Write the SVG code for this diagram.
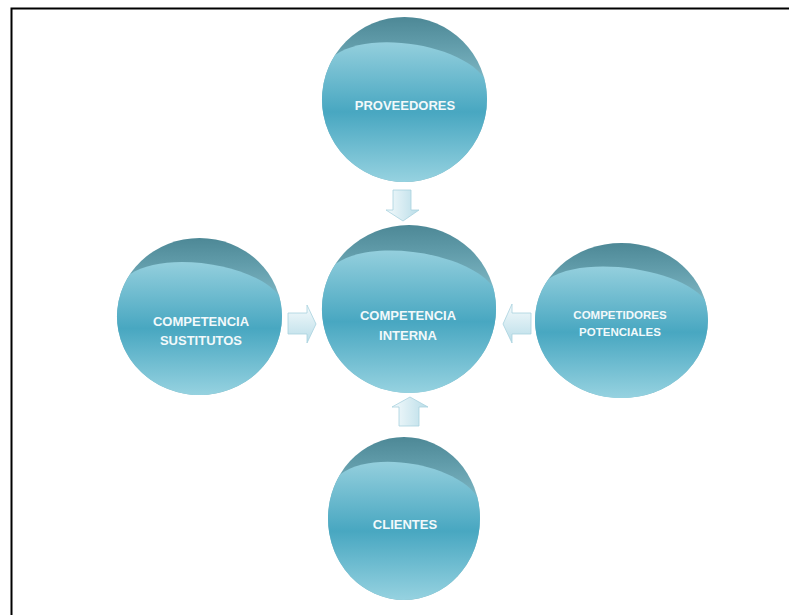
<svg xmlns="http://www.w3.org/2000/svg" width="789" height="615" viewBox="0 0 789 615">
<defs>
<linearGradient id="face" x1="0" y1="0" x2="0" y2="1">
<stop offset="0" stop-color="#94cfdd"/>
<stop offset="0.5" stop-color="#48a7c1"/>
<stop offset="1" stop-color="#96d2e0"/>
</linearGradient>
<linearGradient id="cap" x1="0" y1="0" x2="0" y2="1">
<stop offset="0" stop-color="#4d8896"/>
<stop offset="0.15" stop-color="#5f9aa8"/>
<stop offset="0.4" stop-color="#80b9c6"/>
</linearGradient>
<linearGradient id="arrV" x1="0" y1="0" x2="1" y2="0">
<stop offset="0" stop-color="#f4fafc"/>
<stop offset="1" stop-color="#b9dde8"/>
</linearGradient>
<linearGradient id="arrH" x1="0" y1="0" x2="0" y2="1">
<stop offset="0" stop-color="#f4fafc"/>
<stop offset="1" stop-color="#b9dde8"/>
</linearGradient>
</defs>
<style>
.face{fill:url(#face);}
.cap{fill:url(#cap);}
.lbl{font-family:"Liberation Sans",Arial,sans-serif;font-weight:bold;font-size:13px;fill:#f2f9fb;text-anchor:middle;}
.sm{font-size:11.5px;}
.av{fill:url(#arrV);stroke:#a8d2de;stroke-width:0.8;}
.ah{fill:url(#arrH);stroke:#a8d2de;stroke-width:0.8;}
</style>
<rect x="0" y="0" width="789" height="615" fill="#ffffff"/>
<rect x="11.5" y="8.5" width="800" height="620" fill="none" stroke="#000000" stroke-width="2"/>

<g id="connectors">
<path class="av" d="M393,190 H411 V210 H419 L403,221 L386,210 H393 Z"/>
<path class="ah" d="M288,313 H307 V305 L316,324 L307,343 V334 H288 Z"/>
<path class="ah" d="M531,313 H512 V304 L503,324 L512,343 V334 H531 Z"/>
<path class="av" d="M399,426 V407 H392 L410,397 L428,407 H419 V426 Z"/>
</g>

<g id="node-proveedores">
<g transform="translate(404.5,99.5)">
<circle class="cap" cx="0" cy="0" r="82.5"/>
<path class="face" d="M-69.5,-44.5 A82.5,82.5 0 1 0 79.5,-22 C56,-55 -34,-70 -69.5,-44.5 Z"/>
</g>
<text class="lbl" x="405" y="110">PROVEEDORES</text>
</g>

<g id="node-competencia-interna">
<g transform="translate(409,309) scale(1.055,1.018)">
<circle class="cap" cx="0" cy="0" r="82.5"/>
<path class="face" d="M-69.5,-44.5 A82.5,82.5 0 1 0 79.5,-22 C56,-55 -34,-70 -69.5,-44.5 Z"/>
</g>
<text class="lbl" x="408" y="320">COMPETENCIA</text>
<text class="lbl" x="408" y="340">INTERNA</text>
</g>

<g id="node-competencia-sustitutos">
<g transform="translate(199.5,316.5) scale(1,0.952)">
<circle class="cap" cx="0" cy="0" r="82.5"/>
<path class="face" d="M-69.5,-44.5 A82.5,82.5 0 1 0 79.5,-22 C56,-55 -34,-70 -69.5,-44.5 Z"/>
</g>
<text class="lbl" x="201" y="326">COMPETENCIA</text>
<text class="lbl" x="201" y="345">SUSTITUTOS</text>
</g>

<g id="node-competidores-potenciales">
<g transform="translate(621.5,320.5) scale(1.048,0.94)">
<circle class="cap" cx="0" cy="0" r="82.5"/>
<path class="face" d="M-69.5,-44.5 A82.5,82.5 0 1 0 79.5,-22 C56,-55 -34,-70 -69.5,-44.5 Z"/>
</g>
<text class="lbl sm" x="620" y="319">COMPETIDORES</text>
<text class="lbl sm" x="620" y="336">POTENCIALES</text>
</g>

<g id="node-clientes">
<g transform="translate(404,518.5) scale(0.921,0.988)">
<circle class="cap" cx="0" cy="0" r="82.5"/>
<path class="face" d="M-69.5,-44.5 A82.5,82.5 0 1 0 79.5,-22 C56,-55 -34,-70 -69.5,-44.5 Z"/>
</g>
<text class="lbl" x="405" y="529">CLIENTES</text>
</g>
</svg>
